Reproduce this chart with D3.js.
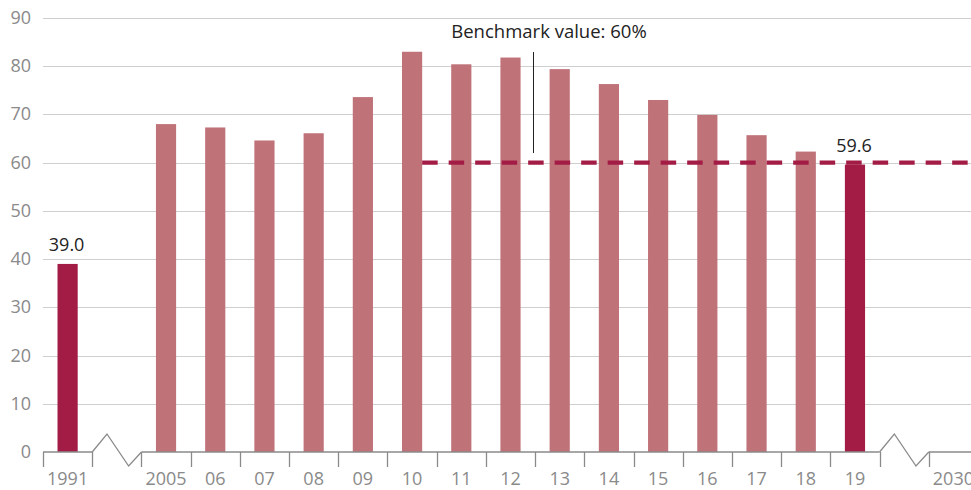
<!DOCTYPE html>
<html>
<head>
<meta charset="utf-8">
<script src="https://cdn.jsdelivr.net/npm/d3@7"></script>
<style>
  html, body { margin: 0; padding: 0; background: #fff; overflow: hidden; }
  svg text { font-family: "Open Sans", "Noto Sans", sans-serif; }
</style>
</head>
<body>
<svg id="chart" width="971" height="490"></svg>
<script>
// Axis slots: "" marks a broken-axis gap
const categories = ["1991", "", "2005", "06", "07", "08", "09", "10", "11", "12", "13", "14", "15", "16", "17", "18", "19", "", "2030"];
const values = [39.0, null, 68.0, 67.3, 64.6, 66.1, 73.6, 83.0, 80.4, 81.8, 79.4, 76.3, 73.0, 69.9, 65.7, 62.3, 59.6, null, null];
const highlighted = ["1991", "19"];
const labelled = { "1991": "39.0", "19": "59.6" };
const yTicks = [0, 10, 20, 30, 40, 50, 60, 70, 80, 90];
const benchmark = 60;
const benchmarkFrom = "10";
const benchmarkText = "Benchmark value: 60%";

const svg = d3.select("#chart");
const x = d3.scaleBand()
  .domain(categories.map((c, i) => i))
  .range([43, 978]);
const y = d3.scaleLinear().domain([0, 90]).range([452, 18]);
const barW = x.bandwidth() * 0.41;
const grey = "#8a8a8a";
const light = "#c07279";
const dark = "#a31c46";
const fs = 18;

// gridlines + y labels
const yAxis = svg.append("g");
yAxis.selectAll("line").data(yTicks.filter(d => d > 0)).join("line")
  .attr("x1", 43).attr("x2", 971)
  .attr("y1", d => Math.round(y(d)) + 0.5).attr("y2", d => Math.round(y(d)) + 0.5)
  .attr("stroke", "#cfcfcf").attr("stroke-width", 1);
yAxis.selectAll("text").data(yTicks).join("text")
  .attr("x", 31).attr("y", d => y(d) + 6)
  .attr("text-anchor", "end")
  .attr("font-size", fs).attr("fill", grey)
  .text(d => d);

// bars
const data = categories.map((c, i) => ({ c, i, v: values[i] })).filter(d => d.v != null);
svg.append("g").selectAll("rect").data(data).join("rect")
  .attr("x", d => x(d.i) + (x.bandwidth() - barW) / 2)
  .attr("width", barW)
  .attr("y", d => y(d.v))
  .attr("height", d => y(0) - y(d.v))
  .attr("fill", d => highlighted.includes(d.c) ? dark : light);

// value labels
svg.append("g").selectAll("text").data(data.filter(d => labelled[d.c])).join("text")
  .attr("x", d => x(d.i) + x.bandwidth() / 2 - 1)
  .attr("y", d => y(d.v) - 13)
  .attr("text-anchor", "middle")
  .attr("font-size", fs).attr("fill", "#222")
  .text(d => labelled[d.c]);

// x axis baseline with breaks
const axis = svg.append("g").attr("fill", "none").attr("stroke", grey).attr("stroke-width", 1.3);
const y0 = y(0);
const breaks = categories.map((c, i) => c === "" ? i : -1).filter(i => i >= 0);
let start = x(0);
breaks.forEach(b => {
  axis.append("line").attr("x1", start).attr("x2", x(b)).attr("y1", y0).attr("y2", y0);
  const bx = x(b), bw = x.bandwidth();
  axis.append("path")
    .attr("d", `M${bx},${y0} L${bx + bw * 0.3},${y0 - 18} L${bx + bw * 0.74},${y0 + 14} L${bx + bw},${y0}`);
  start = bx + bw;
});
axis.append("line").attr("x1", start).attr("x2", 978).attr("y1", y0).attr("y2", y0);

// ticks at slot edges (not inside breaks)
const tickXs = [];
categories.forEach((c, i) => {
  if (c !== "") { tickXs.push(x(i)); tickXs.push(x(i) + x.bandwidth()); }
});
axis.selectAll("line.tick").data(Array.from(new Set(tickXs.map(v => Math.round(v))))).join("line")
  .attr("class", "tick")
  .attr("x1", d => d + 0.5).attr("x2", d => d + 0.5)
  .attr("y1", y0).attr("y2", y0 + 15);

// x labels
svg.append("g").selectAll("text").data(categories.map((c, i) => ({ c, i })).filter(d => d.c !== "")).join("text")
  .attr("x", d => x(d.i) + x.bandwidth() / 2)
  .attr("y", 485)
  .attr("text-anchor", "middle")
  .attr("font-size", fs).attr("fill", grey)
  .text(d => d.c);

// benchmark line
const bIdx = categories.indexOf(benchmarkFrom);
svg.append("line")
  .attr("x1", x(bIdx) + (x.bandwidth() + barW) / 2)
  .attr("x2", 980)
  .attr("y1", y(benchmark)).attr("y2", y(benchmark))
  .attr("stroke", dark).attr("stroke-width", 4.2)
  .attr("stroke-dasharray", "15.5,11");

// benchmark annotation
svg.append("line")
  .attr("x1", 533.5).attr("x2", 533.5)
  .attr("y1", 52).attr("y2", 153)
  .attr("stroke", "#222").attr("stroke-width", 1);
svg.append("text")
  .attr("x", 549).attr("y", 38)
  .attr("text-anchor", "middle")
  .attr("font-size", 18.5).attr("fill", "#222")
  .text(benchmarkText);
</script>
</body>
</html>
